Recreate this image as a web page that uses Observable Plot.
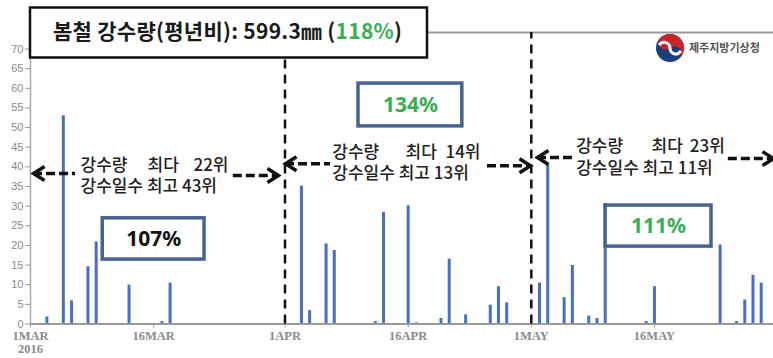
<!DOCTYPE html>
<html><head><meta charset="utf-8">
<script src="https://cdn.jsdelivr.net/npm/d3@7"></script>
<script src="https://cdn.jsdelivr.net/npm/@observablehq/plot@0.6"></script>
<style>
html,body{margin:0;padding:0;background:#fff;}
#chart svg{display:block;}
</style>
</head><body><div id="chart"></div>
<script>
// ---- data ----
const dates = ["2016-03-03","2016-03-05","2016-03-06","2016-03-08","2016-03-09","2016-03-13","2016-03-17","2016-03-18",
  "2016-04-03","2016-04-04","2016-04-06","2016-04-07","2016-04-12","2016-04-13","2016-04-16","2016-04-17","2016-04-20","2016-04-21","2016-04-23","2016-04-26","2016-04-27","2016-04-28",
  "2016-05-02","2016-05-03","2016-05-05","2016-05-06","2016-05-08","2016-05-09","2016-05-10","2016-05-15","2016-05-16","2016-05-24","2016-05-26","2016-05-27","2016-05-28","2016-05-29"];
const rain = [1.8,53,5.9,14.6,20.9,9.9,0.6,10.4,
  35.1,3.4,20.4,18.7,0.6,28.4,30.1,0.3,1.4,16.5,2.3,4.8,9.5,5.4,
  10.4,40.5,6.7,14.9,2.0,1.4,30.7,0.6,9.5,20.1,0.6,6.1,12.4,10.4];
const tickDates = ["2016-03-01","2016-03-16","2016-04-01","2016-04-16","2016-05-01","2016-05-16"];
const tickLabels = ["1MAR\n2016","16MAR","1APR","16APR","1MAY","16MAY"];
const yTicks = [0,5,10,15,20,25,30,35,40,45,50,55,60,65,70];
const boundaries = ["2016-04-01","2016-05-01"];
const pctLabels = ["107%","134%","111%"];
const rankA = ["강수량","강수량","강수량"];
const rankB = ["최다","최다","최다"];
const rankC = ["22위","14위","23위"];
const rankLine2 = ["강수일수 최고 43위","강수일수 최고 13위","강수일수 최고 11위"];
const titleMain = "봄철 강수량(평년비): 599.3㎜ (";
const titlePct = "118%";
const titleEnd = ")";
const agency = "제주지방기상청";

// ---- layout (day offsets from 1 Mar, values in mm) ----
const D0 = Date.UTC(2016, 2, 1);
const at = d => new Date(D0 + d * 864e5);
const parse = s => new Date(s + "T00:00:00Z");
const GREEN = "#3aae52";
const boxLayout = [
  {d1: 8.8, d2: 21.2, v1: 16.4, v2: 26.9, fill: "#111"},
  {d1: 39.95, d2: 52.6, v1: 50.3, v2: 61.2, fill: GREEN},
  {d1: 70.05, d2: 82.95, v1: 19.7, v2: 30.15, fill: GREEN}
];
const grpLayout = [
  {la: [0.37, 5.48], lv: 38.3, ra: [24.7, 30.2], rv: 37.8, xa: 6.09, xb: 14.25, xe: 24.12, v1: 40.45, v2: 35.05},
  {la: [31.06, 36.54], lv: 40.8, ra: [55.66, 60.9], rv: 40.3, xa: 36.76, xb: 45.68, xe: 54.81, v1: 43.75, v2: 38.35},
  {la: [61.75, 66.14], lv: 42.4, ra: [85.0, 90.5], rv: 42.1, xa: 66.47, xb: 75.64, xe: 84.57, v1: 45.05, v2: 39.65}
];

const bars = dates.map((d, i) => ({date: parse(d), value: rain[i]}));
const boxes = boxLayout.map((b, i) => ({...b, label: pctLabels[i]}));
const groups = grpLayout.map((g, i) => ({...g, a: rankA[i], b: rankB[i], c: rankC[i], l2: rankLine2[i]}));
const labelMap = new Map(tickDates.map((d, i) => [+parse(d), tickLabels[i]]));

const chevL = {draw(c){ c.moveTo(11,-7); c.lineTo(0,0); c.lineTo(11,7); }};
const chevR = {draw(c){ c.moveTo(-11,-7); c.lineTo(0,0); c.lineTo(-11,7); }};

const KFONT = "'Noto Sans CJK KR', 'Noto Sans', sans-serif";
const rankText = {fontSize: 17, fontFamily: KFONT, fontWeight: 500, fill: "#222"};

const plot = Plot.plot({
  width: 773, height: 358,
  marginLeft: 30, marginRight: 0, marginTop: 32, marginBottom: 34.5,
  style: {fontFamily: "Liberation Sans, sans-serif", background: "#fff"},
  x: {type: "utc", domain: [at(0), at(90.5)], label: null},
  y: {domain: [0, 74.2], label: null},
  marks: [
    Plot.frame({anchor: "top", stroke: "#999", strokeWidth: 2}),
    Plot.frame({anchor: "left", stroke: "#aaa", strokeWidth: 1.5}),
    Plot.axisY({ticks: yTicks, tickSize: 5, tickPadding: 2, stroke: "#999", fill: "#8a8a8a", fontSize: 11, label: null}),
    Plot.axisX({ticks: tickDates.map(parse), tickFormat: d => labelMap.get(+d), tickSize: 4, tickPadding: 3, stroke: "#999", fill: "#8a8a8a", fontSize: 12.5, fontFamily: "Liberation Serif, serif", fontWeight: "bold", label: null, lineHeight: 1.05}),
    Plot.ruleX(bars, {x: "date", y1: 0, y2: "value", stroke: "#4a6fc2", strokeWidth: 3}),
    Plot.ruleY([0], {stroke: "#999", strokeWidth: 2}),
    Plot.ruleX(boundaries.map(parse), {y1: 0, y2: 74.2, stroke: "#111", strokeWidth: 2.5, strokeDasharray: "9,6"}),
    // arrows
    Plot.ruleY(groups, {x1: d => at(d.la[0]), x2: d => at(d.la[1]), y: "lv", stroke: "#111", strokeWidth: 3.5, strokeDasharray: "9,4"}),
    Plot.ruleY(groups, {x1: d => at(d.ra[0]), x2: d => at(d.ra[1]), y: "rv", stroke: "#111", strokeWidth: 3.5, strokeDasharray: "9,4"}),
    Plot.dot(groups, {x: d => at(d.la[0]), y: "lv", symbol: chevL, fill: "none", stroke: "#111", strokeWidth: 3.5, r: 5}),
    Plot.dot(groups, {x: d => at(d.ra[1]), y: "rv", symbol: chevR, fill: "none", stroke: "#111", strokeWidth: 3.5, r: 5}),
    // rank texts
    Plot.text(groups, {x: d => at(d.xa), y: "v1", text: "a", textAnchor: "start", ...rankText}),
    Plot.text(groups, {x: d => at(d.xb), y: "v1", text: "b", textAnchor: "start", ...rankText}),
    Plot.text(groups, {x: d => at(d.xe), y: "v1", text: "c", textAnchor: "end", ...rankText}),
    Plot.text(groups, {x: d => at(d.xa), y: "v2", text: "l2", textAnchor: "start", ...rankText}),
    // percent boxes
    Plot.rect(boxes, {x1: d => at(d.d1), x2: d => at(d.d2), y1: "v1", y2: "v2", fill: "white", stroke: "#46648f", strokeWidth: 3.5}),
    Plot.text(boxes, {x: d => at((d.d1 + d.d2) / 2), y: d => (d.v1 + d.v2) / 2, text: "label", fill: "fill", fontSize: 21, fontWeight: "bold", fontFamily: "'Noto Sans', sans-serif"})
  ]
});

document.getElementById("chart").appendChild(plot);
const svg = d3.select(plot);

// title box
svg.append("rect").attr("x", 30).attr("y", 7.5).attr("width", 397).attr("height", 50)
  .attr("fill", "white").attr("stroke", "#111").attr("stroke-width", 2.5);
const t = svg.append("text").attr("x", 53).attr("y", 33).attr("dominant-baseline", "middle").attr("text-anchor", "start")
  .attr("font-family", KFONT).attr("font-weight", "bold").attr("font-size", 21).attr("fill", "#1a1a1a")
  .attr("textLength", 349).attr("lengthAdjust", "spacing");
t.append("tspan").text(titleMain);
t.append("tspan").attr("fill", GREEN).text(titlePct);
t.append("tspan").text(titleEnd);

// logo
const g = svg.append("g").attr("transform", "translate(670,48)");
g.append("circle").attr("r", 14).attr("fill", "#1b3f7c");
g.append("path").attr("d", "M0,-14 A14,14 0 0,1 0,14 A7,7 0 0,0 0,0 A7,7 0 0,1 0,-14 Z").attr("fill", "#c8242b").attr("transform", "rotate(-40)");
g.append("path").attr("d", "M-11,-3 C-6,-9 0,-4 0,0 C0,5 6,9 11,3").attr("fill", "none").attr("stroke", "white").attr("stroke-width", 3);
svg.append("text").attr("x", 689).attr("y", 49).attr("dominant-baseline", "middle").attr("text-anchor", "start")
  .attr("font-family", KFONT).attr("font-weight", "bold").attr("font-size", 11).attr("fill", "#555").text(agency);
</script>
</body></html>
